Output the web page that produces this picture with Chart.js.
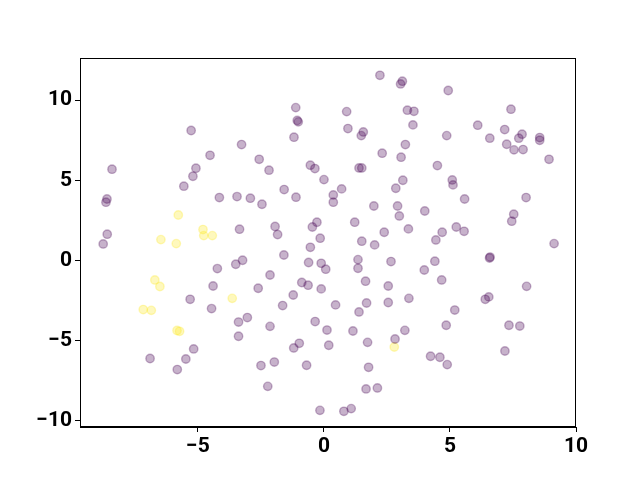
<!DOCTYPE html>
<html>
<head>
<meta charset="utf-8">
<script src="https://cdn.jsdelivr.net/npm/chart.js@4"></script>
<style>
  body { margin: 0; background: #fff; }
  canvas { display: block; }
</style>
</head>
<body>
<canvas id="myChart" width="640" height="480"></canvas>
<script>
// purple group (class 0)
const purpleX = [
  -8.41, -5.08, -5.2, -5.56, -5.27, -4.52, -1.12, -1.06, -1.02, -1.19, -3.27, -2.57, -2.18, -0.54, -0.36, 0.0,
  2.22, 3.11, 3.04, 4.93, 0.9, 3.31, 3.57, 0.95, 1.56, 1.48, 3.53, 4.87, 3.23, 2.31, 3.06, 4.5, 1.39, 1.5, 3.13, 5.09,
  7.42, 6.1, 6.58, 7.17, 7.86, 7.73, 8.56, 8.56, 7.25, 7.54, 7.9, 8.93,
  -8.61, -8.65, -8.6, -8.76, -5.31,
  -4.15, -3.45, -2.92, -2.46, -1.58, -1.11, 0.37, 0.37, -3.35, -1.94, -1.84, -0.28, -0.46, -0.15, -0.54, -1.59,
  -3.23, -3.5, -4.23, -0.61, -0.11, 0.07, -2.14, -4.4, -0.88, -0.63, -2.61, -0.11, -1.22, -1.64, -4.46,
  0.7, 2.85, 1.98, 2.92, 2.99, 4.0, 1.22, 2.39, 3.35, 5.25, 4.69, 4.44, 1.5, 2.01, 1.35, 1.35, 2.66, 4.4, 3.98,
  1.65, 2.55, 4.67, 0.46, 1.69, 2.55, 3.37,
  5.12, 5.58, 8.02, 7.53, 7.45, 5.56, 9.13, 6.59, 6.57, 8.04, 6.54, 6.4,
  -6.9, -5.48, -5.17, -5.82,
  -3.39, -3.04, -3.39, -2.14, -0.35, 0.12, 0.19, -1.2, -0.98, -2.5, -1.97, -0.69, -2.23, -0.16,
  1.39, 1.15, 3.21, 2.82, 1.73, 4.85, 4.23, 4.6, 4.89, 1.77, 1.67, 2.12, 0.79, 1.08,
  5.19, 7.34, 7.77, 7.18,
];
const purpleY = [
  5.69, 5.75, 5.25, 4.63, 8.11, 6.56, 9.54, 8.74, 8.65, 7.69, 7.23, 6.31, 5.63, 5.94, 5.73, 5.04,
  11.56, 11.19, 11.02, 10.61, 9.29, 9.38, 9.31, 8.23, 8.02, 7.79, 8.46, 7.79, 7.23, 6.69, 6.44, 5.92, 5.77, 5.77, 5.0, 5.02,
  9.44, 8.44, 7.63, 8.17, 7.88, 7.63, 7.67, 7.5, 7.25, 6.9, 6.92, 6.31,
  3.83, 3.63, 1.63, 1.02, -2.44,
  3.92, 3.98, 3.88, 3.5, 4.42, 3.94, 4.08, 3.63, 1.94, 2.11, 1.61, 2.38, 2.08, 1.38, 0.81, 0.33,
  0.0, -0.25, -0.52, -0.14, -0.19, -0.56, -0.92, -1.61, -1.39, -1.56, -1.75, -1.79, -2.17, -2.83, -3.02,
  4.46, 4.5, 3.39, 3.39, 2.77, 3.08, 2.38, 1.75, 1.96, 2.08, 1.75, 1.27, 1.19, 0.96, 0.04, -0.5, -0.08, -0.06, -0.61,
  -1.31, -1.61, -1.23, -2.79, -2.67, -2.64, -2.38,
  4.71, 3.83, 3.92, 2.88, 2.44, 1.81, 1.04, 0.2, 0.14, -1.63, -2.29, -2.44,
  -6.14, -6.17, -5.54, -6.83,
  -3.86, -3.58, -4.75, -4.13, -3.83, -4.36, -5.31, -5.48, -5.19, -6.58, -6.36, -6.56, -7.88, -9.38,
  -3.23, -4.42, -4.38, -4.92, -5.13, -4.06, -6.0, -6.06, -6.52, -6.69, -8.04, -7.98, -9.44, -9.27,
  -3.11, -4.06, -4.11, -5.67,
];

// yellow group (class 1)
const yellowX = [-5.78, -6.47, -5.86, -4.8, -4.77, -4.43, -6.71, -6.51, -7.17, -6.85, -5.83, -5.73, -3.64, 2.79];
const yellowY = [2.83, 1.29, 1.04, 1.92, 1.54, 1.54, -1.23, -1.64, -3.08, -3.13, -4.39, -4.44, -2.38, -5.42];

const xTicks = [-5, 0, 5, 10];
const yTicks = [-10, -5, 0, 5, 10];

const toPoints = (xs, ys) => xs.map((x, i) => ({ x: x, y: ys[i] }));
const minus = (v) => String(v).replace("-", "\u2212");

// frame on all four sides, like matplotlib spines
const framePlugin = {
  id: "frame",
  afterDatasetsDraw(chart) {
    const a = chart.chartArea;
    const ctx = chart.ctx;
    ctx.save();
    ctx.strokeStyle = "#000";
    ctx.lineWidth = 1;
    ctx.strokeRect(a.left + 0.5, a.top + 0.5, a.right - a.left - 1, a.bottom - a.top - 1);
    ctx.restore();
  },
};

const tickFont = { family: "Roboto", size: 21, weight: "bold" };

new Chart("myChart", {
  type: "scatter",
  data: {
    datasets: [
      {
        data: toPoints(purpleX, purpleY),
        backgroundColor: "rgba(68,1,84,0.3)",
        borderColor: "rgba(68,1,84,0.3)",
        borderWidth: 1.4,
        pointRadius: 4.2,
        pointHoverRadius: 4.2,
      },
      {
        data: toPoints(yellowX, yellowY),
        backgroundColor: "rgba(253,231,37,0.3)",
        borderColor: "rgba(253,231,37,0.3)",
        borderWidth: 1.4,
        pointRadius: 4.2,
        pointHoverRadius: 4.2,
      },
    ],
  },
  options: {
    responsive: false,
    animation: false,
    layout: { padding: { left: 0, top: 58, right: 64, bottom: 0 } },
    plugins: { legend: { display: false }, tooltip: { enabled: false } },
    scales: {
      x: {
        type: "linear",
        min: -9.68,
        max: 10.0,
        afterBuildTicks: (axis) => { axis.ticks = xTicks.map((v) => ({ value: v })); },
        afterFit: (axis) => { axis.height = 53; },
        grid: { drawOnChartArea: false, drawTicks: true, tickLength: 5, color: "#000" },
        border: { display: true, color: "#000", width: 1 },
        ticks: { color: "#000", font: tickFont, padding: 2, maxRotation: 0, callback: (v) => minus(v) },
      },
      y: {
        type: "linear",
        min: -10.42,
        max: 12.64,
        afterBuildTicks: (axis) => { axis.ticks = yTicks.map((v) => ({ value: v })); },
        afterFit: (axis) => { axis.width = 80; },
        grid: { drawOnChartArea: false, drawTicks: true, tickLength: 5, color: "#000" },
        border: { display: true, color: "#000", width: 1 },
        ticks: { color: "#000", font: tickFont, padding: 3, callback: (v) => minus(v) },
      },
    },
  },
  plugins: [framePlugin],
});
</script>
</body>
</html>
